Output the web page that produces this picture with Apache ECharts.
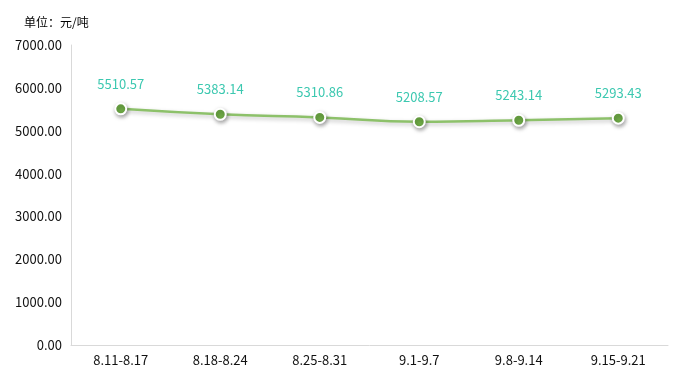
<!DOCTYPE html>
<html><head><meta charset="utf-8">
<script src="https://cdn.jsdelivr.net/npm/echarts@6/dist/echarts.min.js"></script>
<style>html,body{margin:0;padding:0;background:#fff}#c{width:684px;height:380px}</style>
</head><body><div id="c"></div>
<script>
const categories = ['8.11-8.17','8.18-8.24','8.25-8.31','9.1-9.7','9.8-9.14','9.15-9.21'];
const prices = [5510.57, 5383.14, 5310.86, 5208.57, 5243.14, 5293.43];
const yTicks = {min: 0, max: 7000, interval: 1000};
const unitText = '单位：元/吨';

const chart = echarts.init(document.getElementById('c'));
const font = '"Noto Sans CJK SC", "Noto Sans", sans-serif';
chart.setOption({
  animation: false,
  title: {text: unitText, left: 19, top: 11, textStyle: {fontSize: 12, fontWeight: 'normal', color: '#000', fontFamily: font}},
  grid: {left: 71, right: 16, top: 45, bottom: 35},
  xAxis: {
    type: 'category', data: categories, boundaryGap: true,
    axisLine: {lineStyle: {color: '#d9d9d9'}}, axisTick: {show: false},
    axisLabel: {color: '#111', fontSize: 13, margin: 9, fontFamily: font}
  },
  yAxis: {
    type: 'value', min: yTicks.min, max: yTicks.max, interval: yTicks.interval,
    axisLine: {show: true, lineStyle: {color: '#d9d9d9'}}, axisTick: {show: false},
    splitLine: {show: false},
    axisLabel: {color: '#111', fontSize: 13, margin: 9, fontFamily: font, formatter: v => v.toFixed(2)}
  },
  series: [{
    type: 'line', data: prices, smooth: true,
    symbol: 'circle', symbolSize: 11,
    lineStyle: {color: '#8dc16a', width: 2.5, shadowColor: 'rgba(0,0,0,0.25)', shadowBlur: 4, shadowOffsetY: 2},
    itemStyle: {color: '#70ad47', borderColor: '#fff', borderWidth: 2, shadowColor: 'rgba(0,0,0,0.35)', shadowBlur: 4, shadowOffsetX: 1, shadowOffsetY: 2},
    label: {show: true, position: 'top', distance: 12, color: '#3cc8b0', fontSize: 13, fontFamily: font, formatter: p => p.value.toFixed(2)}
  }]
});
</script></body></html>
